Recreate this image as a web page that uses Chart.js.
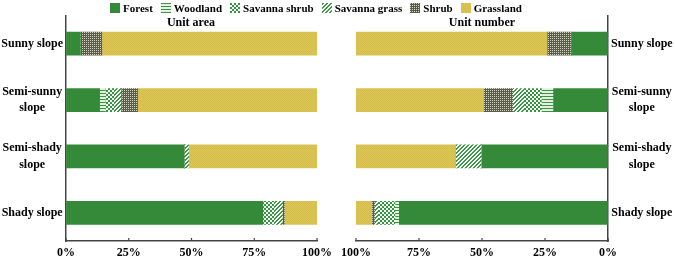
<!DOCTYPE html>
<html>
<head>
<meta charset="utf-8">
<script src="https://cdn.jsdelivr.net/npm/chart.js@4"></script>
<style>
  body { margin: 0; background: #fff; font-family: "Liberation Serif", "Times New Roman", serif; }
  #wrap { position: relative; width: 675px; height: 257px; overflow: hidden; }
  #areaBox { position: absolute; left: 0; top: 0; width: 340px; height: 257px; }
  #numberBox { position: absolute; left: 340px; top: 0; width: 335px; height: 257px; }
  .ttl { position: absolute; top: 15px; font-weight: bold; font-size: 12px; line-height: 14px; transform: translateX(-50%); white-space: nowrap; }
  #legend { position: absolute; top: 1px; left: 0; width: 632px; display: flex; justify-content: center; font-weight: bold; font-size: 11px; line-height: 14px; }
  .item { display: flex; align-items: center; margin: 0 4px; }
  .item canvas { width: 10px; height: 10px; margin-right: 3px; }
</style>
</head>
<body>
<div id="wrap">
  <div id="areaBox"><canvas id="areaChart"></canvas></div>
  <div id="numberBox"><canvas id="numberChart"></canvas></div>
  <div id="legend"></div>
  <div class="ttl" style="left:191px">Unit area</div>
  <div class="ttl" style="left:482px">Unit number</div>
</div>
<script>
    const slopes = [["Sunny slope"], ["Semi-sunny", "slope"], ["Semi-shady", "slope"], ["Shady slope"]];
    const types = ["Forest", "Woodland", "Savanna shrub", "Savanna grass", "Shrub", "Grassland"];
    const xTicks = [0, 25, 50, 75, 100];

    // Unit area (%), sunny -> shady
    const areaForest = [5.7, 13.4, 47.1, 78.4];
    const areaWoodland = [0, 2.3, 0, 0];
    const areaSavShrub = [0, 3.3, 0, 4.5];
    const areaSavGrass = [0, 2.9, 1.7, 3.3];
    const areaShrub = [8.6, 6.6, 0, 0.8];
    const areaGrass = [85.7, 71.5, 51.2, 13.0];

    // Unit number (%), sunny -> shady
    const numForest = [14.2, 21.6, 50.0, 82.8];
    const numWoodland = [0, 4.6, 0, 1.5];
    const numSavShrub = [0, 6.8, 0, 6.8];
    const numSavGrass = [0, 4.6, 10.2, 1.3];
    const numShrub = [9.7, 11.5, 0, 1.1];
    const numGrass = [76.1, 50.9, 39.8, 6.5];

    // small fill patterns like the excel hatch fills
    function makePattern(kind) {
        const c = document.createElement("canvas");
        const g = c.getContext("2d");
        function px(x, y, col) { g.fillStyle = col; g.fillRect(x, y, 1, 1); }
        if (kind === "Forest") {
            c.width = c.height = 1;
            px(0, 0, "#358a3a");
        } else if (kind === "Woodland") {
            c.width = 1; c.height = 3;
            px(0, 0, "#3a9440"); px(0, 1, "#e4f0e2"); px(0, 2, "#e4f0e2");
        } else if (kind === "Savanna shrub") {
            c.width = c.height = 4;
            for (let x = 0; x < 4; x++)
                for (let y = 0; y < 4; y++)
                    px(x, y, ((x >> 1) + (y >> 1)) % 2 ? "#ffffff" : "#2f963a");
        } else if (kind === "Savanna grass") {
            c.width = c.height = 4;
            for (let x = 0; x < 4; x++)
                for (let y = 0; y < 4; y++)
                    px(x, y, (x + y) % 4 < 2 ? "#3a9a45" : "#ffffff");
        } else if (kind === "Shrub") {
            c.width = c.height = 2;
            px(0, 0, "#d0d0c0"); px(1, 0, "#5a5e48"); px(0, 1, "#5a5e48"); px(1, 1, "#5a5e48");
        } else {
            c.width = c.height = 2;
            px(0, 0, "#d6be4a"); px(1, 1, "#d6be4a"); px(1, 0, "#dcc557"); px(0, 1, "#dcc557");
        }
        return g.createPattern(c, "repeat");
    }

    // legend
    const legendBox = document.getElementById("legend");
    types.forEach(t => {
        let item = document.createElement("div");
        item.className = "item";
        let sw = document.createElement("canvas");
        sw.width = 10; sw.height = 10;
        let sg = sw.getContext("2d");
        sg.fillStyle = makePattern(t);
        sg.fillRect(0, 0, 10, 10);
        item.appendChild(sw);
        let span = document.createElement("span");
        span.textContent = t;
        item.appendChild(span);
        legendBox.appendChild(item);
    });

    // inward tick marks on the x axis
    const innerTicks = {
        id: "innerTicks",
        afterDraw(chart) {
            const sc = chart.scales.x;
            const ctx = chart.ctx;
            ctx.save();
            ctx.strokeStyle = "#444";
            ctx.lineWidth = 1.2;
            xTicks.forEach(v => {
                const x = sc.getPixelForValue(v);
                ctx.beginPath();
                ctx.moveTo(x, sc.top);
                ctx.lineTo(x, sc.top - 3);
                ctx.stroke();
            });
            ctx.restore();
        }
    };

    const tickFont = { family: "'Liberation Serif', 'Times New Roman', serif", size: 12, weight: "bold", lineHeight: 1.35 };

    function createChart(canvasId, series, side) {
        return new Chart(document.getElementById(canvasId), {
            type: "bar",
            data: {
                labels: slopes,
                datasets: series.map((d, i) => ({
                    label: types[i],
                    data: d,
                    backgroundColor: makePattern(types[i]),
                    borderWidth: 0,
                    barThickness: 23
                }))
            },
            options: {
                indexAxis: "y",
                responsive: true,
                maintainAspectRatio: false,
                animation: false,
                layout: { padding: side === "left" ? { top: 15.5, right: 23, left: 0, bottom: 0 } : { top: 15.5, left: 16, right: 0, bottom: 0 } },
                plugins: {
                    legend: { display: false },
                    tooltip: { enabled: false }
                },
                scales: {
                    x: {
                        stacked: true,
                        min: 0,
                        max: 100,
                        reverse: side === "right",
                        grid: { display: true, drawOnChartArea: false, drawTicks: false },
                        border: { color: "#444", width: 1.5 },
                        ticks: {
                            stepSize: 25,
                            padding: 4,
                            color: "#000",
                            font: tickFont,
                            callback: v => v + "%"
                        },
                        afterFit: s => { s.height = 16; s.paddingLeft = 0; s.paddingRight = 0; }
                    },
                    y: {
                        stacked: true,
                        position: side,
                        grid: { display: true, drawOnChartArea: false, drawTicks: false },
                        border: { color: "#444", width: 1.5 },
                        ticks: { color: "#000", font: tickFont, crossAlign: "center", padding: 3 },
                        afterFit: s => { s.width = side === "left" ? 66 : 67; s.paddingTop = 0; s.paddingBottom = 0; }
                    }
                }
            },
            plugins: [innerTicks]
        });
    }

    createChart("areaChart", [areaForest, areaWoodland, areaSavShrub, areaSavGrass, areaShrub, areaGrass], "left");
    createChart("numberChart", [numForest, numWoodland, numSavShrub, numSavGrass, numShrub, numGrass], "right");
</script>
</body>
</html>
